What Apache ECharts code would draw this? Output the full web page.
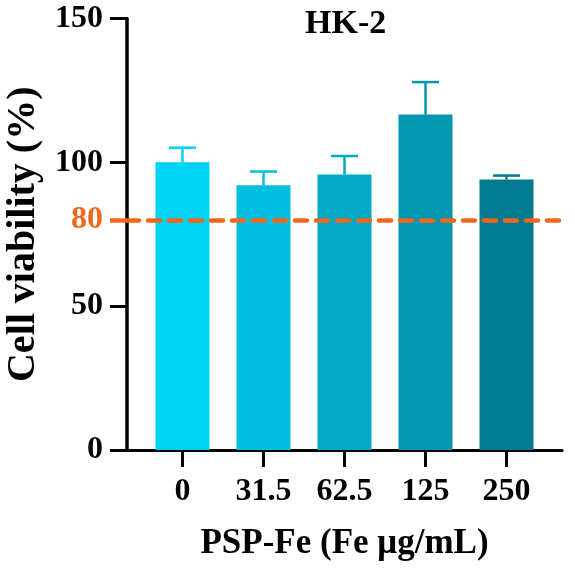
<!DOCTYPE html>
<html>
<head>
<meta charset="utf-8">
<script src="https://cdn.jsdelivr.net/npm/echarts@6/dist/echarts.min.js"></script>
<style>
  html, body { margin: 0; padding: 0; background: #fff; }
  #main { width: 575px; height: 573px; }
</style>
</head>
<body>
<div id="main"></div>
<script>
// doses of PSP-Fe (Fe ug/mL)
var doses = ['0', '31.5', '62.5', '125', '250'];
// cell viability mean (%) and upper end of error bar
var viability = [100, 92, 95.8, 116.6, 94];
var errTop = [105.1, 96.8, 102.2, 127.9, 95.4];
var barColors = ['#00D3F4', '#00BEDD', '#00A9C8', '#0096B0', '#007A8F'];
var threshold = 80;

var font = '"Liberation Serif", "Times New Roman", serif';
var orange = '#F2661C';

var myChart = echarts.init(document.getElementById('main'));

var barData = [];
var errData = [];
for (var i = 0; i < doses.length; i++) {
    barData.push({ value: [i, viability[i]], itemStyle: { color: barColors[i] } });
    errData.push([i, viability[i], errTop[i]]);
}

var labelStyle = { fontFamily: font, fontWeight: 'bold', fontSize: 32, color: '#000' };

var option = {
    animation: false,
    title: {
        text: 'HK-2',
        left: 300,
        top: 2,
        textStyle: { fontFamily: font, fontWeight: 'bold', fontSize: 34, color: '#000' }
    },
    grid: { left: 127, right: 13, top: 18.5, bottom: 123, outerBoundsMode: 'none', containLabel: false },
    xAxis: {
        type: 'value',
        min: -0.685,
        max: 4.685,
        splitLine: { show: false },
        axisLine: { show: true, onZero: false, lineStyle: { color: '#000', width: 3 } },
        axisTick: {
            show: true, length: 17, customValues: [0, 1, 2, 3, 4],
            lineStyle: { color: '#000', width: 3 }
        },
        axisLabel: {
            customValues: [0, 1, 2, 3, 4],
            formatter: function (v) { return '{a|' + doses[Math.round(v)] + '}'; },
            margin: 26,
            rich: { a: labelStyle }
        },
        name: 'PSP-Fe (Fe μg/mL)',
        nameLocation: 'middle',
        nameGap: 76,
        nameTextStyle: { fontFamily: font, fontWeight: 'bold', fontSize: 35, color: '#000' }
    },
    yAxis: [{
        type: 'value',
        position: 'left',
        min: 0,
        max: 150,
        interval: 50,
        splitLine: { show: false },
        axisLine: { show: true, onZero: false, lineStyle: { color: '#000', width: 3.5 } },
        axisTick: { show: true, length: 17, lineStyle: { color: '#000', width: 3 } },
        axisLabel: {
            margin: 24,
            fontFamily: font, fontWeight: 'bold', fontSize: 32, color: '#000'
        },
        name: 'Cell viability (%)',
        nameLocation: 'middle',
        nameGap: 80,
        nameTextStyle: { fontFamily: font, fontWeight: 'bold', fontSize: 40, color: '#000' }
    }, {
        // orange 80% marker on the y axis
        type: 'value',
        position: 'left',
        offset: 0,
        min: 0,
        max: 150,
        splitLine: { show: false },
        axisLine: { show: false, onZero: false },
        axisTick: { show: true, length: 17, customValues: [threshold], lineStyle: { color: orange, width: 4.5 } },
        axisLabel: {
            customValues: [threshold],
            margin: 24,
            formatter: function (v) { return '{o|' + v + '}'; },
            rich: { o: { fontFamily: font, fontWeight: 'bold', fontSize: 32, color: orange } }
        }
    }],
    series: [{
        type: 'bar',
        barWidth: 54,
        data: barData,
        markLine: {
            silent: true,
            symbol: 'none',
            label: { show: false },
            lineStyle: { color: orange, width: 4.5, type: [12, 9], cap: 'round' },
            data: [{ yAxis: threshold }]
        },
        z: 2
    }, {
        type: 'custom',
        data: errData,
        z: 3,
        renderItem: function (params, api) {
            var x = api.value(0);
            var base = api.coord([x, api.value(1)]);
            var top = api.coord([x, api.value(2)]);
            var half = 13.5;
            var color = barColors[params.dataIndex];
            return {
                type: 'group',
                children: [{
                    type: 'line',
                    shape: { x1: base[0], y1: base[1], x2: top[0], y2: top[1] },
                    style: { stroke: color, lineWidth: 2.5 }
                }, {
                    type: 'line',
                    shape: { x1: top[0] - half, y1: top[1], x2: top[0] + half, y2: top[1] },
                    style: { stroke: color, lineWidth: 2.5 }
                }]
            };
        }
    }]
};

myChart.setOption(option);
</script>
</body>
</html>
